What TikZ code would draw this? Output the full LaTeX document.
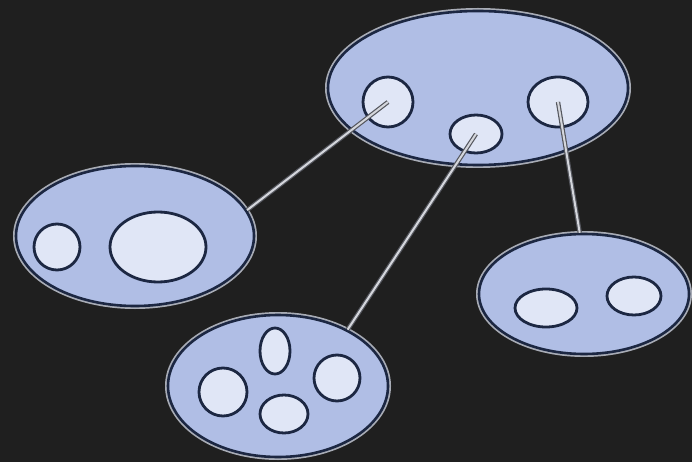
\documentclass[tikz,border=0pt]{standalone}
\usetikzlibrary{shapes.geometric}
\definecolor{bg}{HTML}{1F1F1F}
\definecolor{outerfill}{HTML}{B0BEE5}
\definecolor{innerfill}{HTML}{E0E6F6}
\definecolor{edge}{HTML}{1C2742}
\definecolor{halo}{HTML}{A8ACB6}
\definecolor{linkdark}{HTML}{55575E}
\definecolor{linklight}{HTML}{D4D6DC}
\tikzset{
  grp/.style={ellipse, inner sep=0pt, fill=outerfill, draw=edge, line width=2.6pt,
    preaction={draw=halo, line width=6pt}},
  sub/.style={ellipse, inner sep=0pt, fill=innerfill, draw=edge, line width=2.8pt},
  link/.style={draw=linkdark, line width=1.2pt, double=linklight, double distance=2pt}
}
\begin{document}
\begin{tikzpicture}[x=1pt,y=-1pt]
\fill[bg] (0,0) rectangle (692,462);
\useasboundingbox (0,0) rectangle (692,462);
% outer groups
\node[grp, minimum width=300pt, minimum height=154pt] (T) at (478,88) {};
\node[grp, minimum width=238pt, minimum height=140pt] (L) at (135,236) {};
\node[grp, minimum width=220pt, minimum height=142pt] (B) at (278,386) {};
\node[grp, minimum width=210pt, minimum height=120pt] (R) at (584,294) {};
% top inner
\node[sub, minimum width=50pt, minimum height=50pt] (t1) at (388,102) {};
\node[sub, minimum width=52pt, minimum height=38pt] (t2) at (476,134) {};
\node[sub, minimum width=60pt, minimum height=50pt] (t3) at (558,102) {};
% left inner
\node[sub, minimum width=46pt, minimum height=46pt] (l1) at (57,247) {};
\node[sub, minimum width=96pt, minimum height=70pt] (l2) at (158,247) {};
% bottom inner
\node[sub, minimum width=30pt, minimum height=46pt] (b1) at (275,351) {};
\node[sub, minimum width=46pt, minimum height=46pt] (b2) at (337,378) {};
\node[sub, minimum width=48pt, minimum height=48pt] (b3) at (223,392) {};
\node[sub, minimum width=48pt, minimum height=38pt] (b4) at (284,414) {};
% right inner
\node[sub, minimum width=62pt, minimum height=38pt] (r1) at (546,308) {};
\node[sub, minimum width=54pt, minimum height=38pt] (r2) at (634,296) {};
% links
\draw[link] (t1.center) -- (L.13);
\draw[link] (t2.center) -- (B.39);
\draw[link] (t3.center) -- (R.94);
\end{tikzpicture}
\end{document}
